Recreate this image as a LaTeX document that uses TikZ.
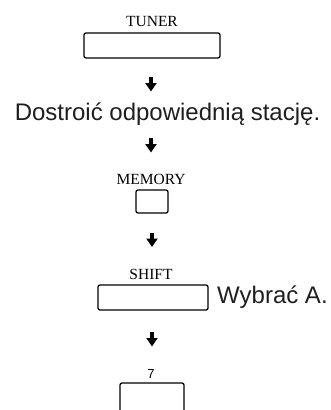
\documentclass[tikz,border=0pt]{standalone}
\usepackage{fontspec}
\setmainfont{Liberation Serif}
\newfontfamily\sansf{Liberation Sans}
\usetikzlibrary{arrows.meta}
\tikzset{
  keybox/.style={draw, line width=1.3pt, rounded corners=2pt, inner sep=0pt},
  keylabel/.style={font=\fontsize{15.5}{16}\selectfont, inner sep=0pt, anchor=base},
  bigtext/.style={font=\sansf\fontsize{24}{26}\selectfont, inner sep=0pt, text=black!88},
  downarrow/.style={line width=3.6pt, -{Triangle[width=11pt,length=8.5pt]}}
}
\begin{document}
\begin{tikzpicture}[x=1pt,y=-1pt]
\useasboundingbox (0,0) rectangle (330,410);
% TUNER
\node[keylabel] (tunerlabel) at (152,26) {TUNER};
\node[keybox, minimum width=136pt, minimum height=25pt] (tuner) at (152,45.5) {};
\coordinate (a1s) at (151,77);
\coordinate (a1e) at (151,91.5);
\draw[downarrow] (a1s) -- (a1e);
% sentence
\node[bigtext, anchor=base] (tune) at (167.5,120) {Dostroić odpowiednią stację.};
\coordinate (a2s) at (151,138);
\coordinate (a2e) at (151,152.5);
\draw[downarrow] (a2s) -- (a2e);
% MEMORY
\node[keylabel] (memlabel) at (151,184) {MEMORY};
\node[keybox, minimum width=32pt, minimum height=23pt] (memory) at (152,201.5) {};
\coordinate (a3s) at (152,232.5);
\coordinate (a3e) at (152,247);
\draw[downarrow] (a3s) -- (a3e);
% SHIFT
\node[keylabel] (shiftlabel) at (151,279) {SHIFT};
\node[keybox, minimum width=110pt, minimum height=25pt] (shift) at (153,297.5) {};
\node[bigtext, anchor=base west] (choose) at (217,303) {Wybrać A.};
\coordinate (a4s) at (152,332);
\coordinate (a4e) at (152,346.5);
\draw[downarrow] (a4s) -- (a4e);
% 7
\node[keylabel, font=\sansf\fontsize{13}{14}\selectfont] (sevenlabel) at (151,378) {7};
\coordinate (s1) at (120,412);
\coordinate (s2) at (120,383);
\coordinate (s3) at (184,383);
\coordinate (s4) at (184,412);
\draw[line width=1.3pt, rounded corners=2pt] (s1) -- (s2) -- (s3) -- (s4);
\end{tikzpicture}
\end{document}
